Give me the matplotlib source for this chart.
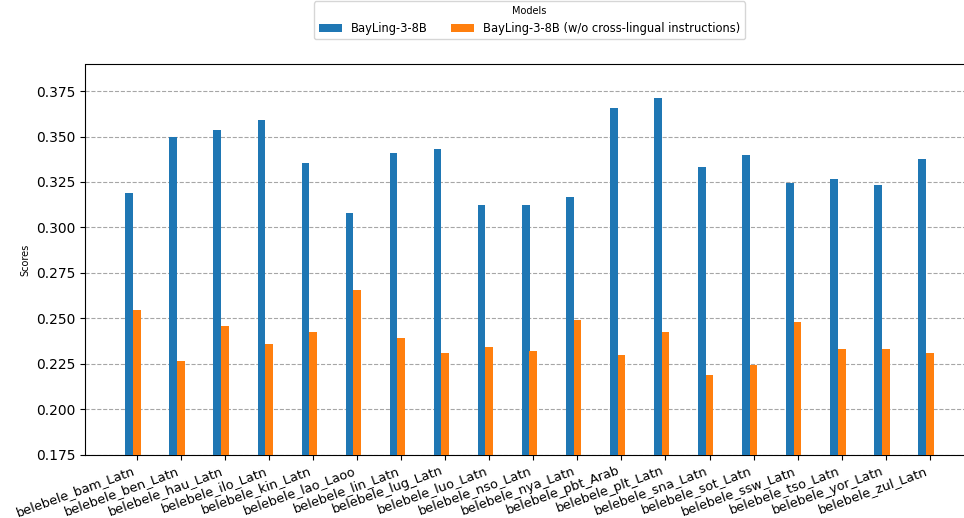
import matplotlib
matplotlib.use("Agg")
import matplotlib.pyplot as plt
import numpy as np

categories = ["belebele_bam_Latn", "belebele_ben_Latn", "belebele_hau_Latn", "belebele_ilo_Latn",
              "belebele_kin_Latn", "belebele_lao_Laoo", "belebele_lin_Latn", "belebele_lug_Latn",
              "belebele_luo_Latn", "belebele_nso_Latn", "belebele_nya_Latn", "belebele_pbt_Arab",
              "belebele_plt_Latn", "belebele_sna_Latn", "belebele_sot_Latn", "belebele_ssw_Latn",
              "belebele_tso_Latn", "belebele_yor_Latn", "belebele_zul_Latn"]
bayling = [0.3189, 0.3500, 0.3535, 0.3590, 0.3354, 0.3078, 0.3409, 0.3430, 0.3122, 0.3122,
           0.3166, 0.3656, 0.3711, 0.3332, 0.3398, 0.3243, 0.3265, 0.3232, 0.3376]
bayling_wo = [0.2546, 0.2265, 0.2458, 0.2359, 0.2425, 0.2656, 0.2392, 0.2310, 0.2342, 0.2320,
              0.2490, 0.2298, 0.2425, 0.2188, 0.2243, 0.2480, 0.2331, 0.2331, 0.2310]
series_names = ["BayLing-3-8B", "BayLing-3-8B (w/o cross-lingual instructions)"]

fig = plt.figure(figsize=(9.64, 5.18), dpi=100)
ax = fig.add_axes([85/964, 63.5/518, 889/964, 390/518])

x = np.arange(len(categories))
w = 0.175
ax.bar(x - w, bayling, w, color="#1f77b4", label=series_names[0], zorder=3)
ax.bar(x, bayling_wo, w, color="#ff7f0e", label=series_names[1], zorder=3)

ax.set_ylim(0.175, max(bayling) * 1.05)
ax.set_xticks(x)
ax.set_xticklabels(categories, rotation=20, ha="right", fontsize=9.3)
ax.tick_params(axis="y", labelsize=10)
ax.set_ylabel("Scores", fontsize=7)
ax.yaxis.grid(True, linestyle="--", color="gray", alpha=0.7, zorder=0)
ax.set_axisbelow(True)

leg = ax.legend(title="Models", loc="lower center", bbox_to_anchor=(0.5, 1.05), ncol=2,
                fontsize=8.3, title_fontsize=7)

fig.savefig("out.png", dpi=100)
